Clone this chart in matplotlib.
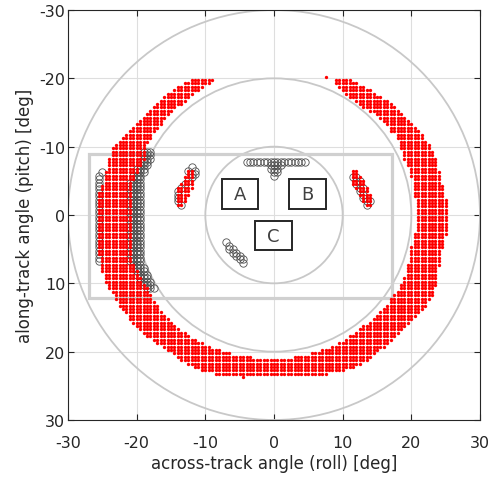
import numpy as np
import matplotlib
matplotlib.use("Agg")
import matplotlib.pyplot as plt
from matplotlib.patches import Circle, Rectangle

plt.rcParams['font.family'] = ['DejaVu Sans']
plt.rcParams['axes.unicode_minus'] = False

# red footprint, one row every 0.5 deg: left run [l0, l1], right run [r0, r1]
# (right run is nan where the ring closes at the bottom)
ring_y = [-19.75, -19.25, -18.75, -18.25, -17.75, -17.25, -16.75, -16.25, -15.75, -15.25,
          -14.75, -14.25, -13.75, -13.25, -12.75, -12.25, -11.75, -11.25, -10.75, -10.25,
          -9.75, -9.25, -8.75, -8.25, -7.75, -7.25, -6.75, -6.25, -5.75, -5.25,
          -4.75, -4.25, -3.75, -3.25, -2.75, -2.25, -1.75, -1.25, -0.75, -0.25,
          0.25, 0.75, 1.25, 1.75, 2.25, 2.75, 3.25, 3.75, 4.25, 4.75,
          5.25, 5.75, 6.25, 6.75, 7.25, 7.75, 8.25, 8.75, 9.25, 9.75,
          10.25, 10.75, 11.25, 11.75, 12.25, 12.75, 13.25, 13.75, 14.25, 14.75,
          15.25, 15.75, 16.25, 16.75, 17.25, 17.75, 18.25, 18.75, 19.25, 19.75,
          20.25, 20.75, 21.25, 21.75, 22.25, 22.75, 23.25]
ring_l0 = [-12, -13, -14, -14.5, -15.5, -16, -16.5, -17, -17.5, -18,
           -18.5, -19, -19.5, -20, -20.5, -21, -21.5, -22, -22.5, -23,
           -23.5, -23.5, -23.5, -24, -24, -24, -24, -24.5, -24.5, -24.5,
           -24.5, -25, -25, -25.5, -25.5, -25.5, -25.5, -25.5, -25.5, -25.5,
           -25.5, -25.5, -25.5, -25.5, -25.5, -25.5, -25.5, -25.5, -25.5, -25.5,
           -25.5, -25.5, -25, -25, -25, -25, -25, -24.5, -24.5, -24.5,
           -24, -24, -23.5, -23, -23, -22.5, -22.5, -22, -21.5, -21,
           -21, -20.5, -20, -19.5, -19, -18.5, -17.5, -17, -16, -15.5,
           -14.5, -14, -13.5, -12.5, -11.5, -10.5, -8.5]
ring_l1 = [-9, -9.5, -10.5, -11, -12, -12.5, -13, -13.5, -14.5, -15,
           -15.5, -16, -16.5, -16.5, -17, -17.5, -18, -18, -18.5, -19,
           -19, -19, -19, -19, -19.5, -19.5, -20, -20, -20.5, -20.5,
           -21, -21, -21, -21, -21, -21, -21, -21, -21, -21,
           -21, -21, -21, -21, -21, -21, -21, -21, -21, -21,
           -21, -21, -21, -21, -20.5, -20.5, -20, -20, -19.5, -19.5,
           -19, -18.5, -18.5, -18, -18, -17.5, -17, -17, -16.5, -16,
           -15.5, -15, -14.5, -14, -13, -12.5, -11.5, -10.5, -9.5, -8,
           -6.5, -3.5, 13.5, 12.5, 11.5, 10, 7.5]
ring_r0 = [9, 9, 9.5, 10, 10.5, 11, 12, 12.5, 13, 14,
           15, 15.5, 16, 16.5, 17, 17, 18, 18, 18.5, 18.5,
           18.5, 19, 19, 19, 19.5, 19.5, 20, 20, 20, 20.5,
           20.5, 20.5, 20.5, 20.5, 20.5, 21, 21, 21, 21, 21,
           21, 21, 21, 21, 21, 20.5, 20.5, 20.5, 20.5, 20,
           20, 20, 20, 20, 19.5, 19.5, 19.5, 19.5, 19, 19,
           18.5, 18.5, 18, 17.5, 17, 17, 16.5, 16, 15.5, 15,
           14.5, 14, 13, 12.5, 12, 11, 10.5, 9.5, 8.5, 7,
           5.5, 3, np.nan, np.nan, np.nan, np.nan, np.nan]
ring_r1 = [11, 12, 13, 14, 14.5, 15.5, 16.5, 17, 17.5, 18,
           18.5, 19, 19.5, 20, 20.5, 21, 21.5, 21.5, 22, 22.5,
           22.5, 23, 23, 23.5, 23.5, 23.5, 23.5, 24, 24, 24,
           24, 24.5, 24.5, 24.5, 24.5, 25, 25, 25, 25, 25,
           25, 25, 25, 25, 25, 25, 24.5, 24.5, 24.5, 24.5,
           24, 24, 24, 24, 24, 23.5, 23.5, 23.5, 23.5, 23.5,
           23.5, 23, 23, 23, 22.5, 22, 22, 21.5, 21, 20.5,
           20, 19.5, 19, 18.5, 18, 17.5, 17, 16.5, 16, 15,
           14.5, 14, np.nan, np.nan, np.nan, np.nan, np.nan]
stray_x = [7.5, -4.5]
stray_y = [-20.25, 23.75]

# small red patches next to the centre: columns x with [y0, y1]
patch_x = [-12, -12.5, -13, -13.5, -14, 11.5, 12, 12.5, 13, 13.5, 14]
patch_y0 = [-6.5, -6.5, -5.5, -4.5, -4, -6.5, -6.5, -5.5, -5, -4, -3]
patch_y1 = [-4, -3, -2, -1.5, -1.5, -4.5, -4, -3, -2, -1.5, -1.5]

# black circles along the inner edge of the left part: rows y with [x0, x1]
band_y = [-9.25, -8.75, -8.25, -7.75, -7.25, -6.75, -6.25, -5.75, -5.25, -4.75,
          -4.25, -3.75, -3.25, -2.75, -2.25, -1.75, -1.25, -0.75, -0.25, 0.25,
          0.75, 1.25, 1.75, 2.25, 2.75, 3.25, 3.75, 4.25, 4.75, 5.25,
          5.75, 6.25, 6.75, 7.25, 7.75, 8.25, 8.75, 9.25, 9.75, 10.25, 10.75]
band_x0 = [-19, -19, -19, -19.5, -19.5, -20, -20, -20.5, -20.5, -21,
           -21, -21, -21, -21, -21, -21, -21, -21, -21, -21,
           -21, -21, -21, -21, -21, -21, -21, -21, -21, -21,
           -21, -21, -21, -20.5, -20.5, -20, -20, -19.5, -19.5, -19, -18.5]
band_x1 = [-18, -18, -18, -18.5, -18.5, -19, -19, -19.5, -19.5, -19.5,
           -19.5, -19.5, -19.5, -19.5, -19.5, -19.5, -19.5, -19.5, -19.5, -19.5,
           -19.5, -19.5, -19.5, -19.5, -19.5, -19.5, -19.5, -19.5, -19.5, -19.5,
           -19.5, -19.5, -19.5, -19.5, -19, -19, -18.5, -18.5, -18, -18, -17.5]

# other black circles
circ_x = ([-25.5] * 26 + [-25]
          + [-4, -3.5, -3, -2.5, -2, -1.5, -1, -0.5, 0, 0.5, 1, 1.5, 2, 2.5, 3, 3.5, 4, 4.5]
          + [-0.5, 0, 0.5, 1, -0.5, 0, 0.5, 0, 0.5, 0]
          + [-7, -6.5, -6.5, -6, -6, -5.5, -5.5, -5, -5, -4.5, -4.5]
          + [-12, -12.5, -11.5, -11.5, -12, -12, -12.5, -13, -13.5, -14, -14, -14, -14, -13.5]
          + [11.5, 12, 12, 12, 12.5, 12.5, 12.5, 13, 13, 13, 13.5, 13.5, 14])
circ_y = ([-5.75, -5.25, -4.75, -4.25, -3.75, -3.25, -2.75, -2.25, -1.75, -1.25,
           -0.75, -0.25, 0.25, 0.75, 1.25, 1.75, 2.25, 2.75, 3.25, 3.75,
           4.25, 4.75, 5.25, 5.75, 6.25, 6.75, -6.25]
          + [-7.75] * 18
          + [-7.25, -7.25, -7.25, -7.25, -6.75, -6.75, -6.75, -6.25, -6.25, -5.75]
          + [4, 4.5, 5, 5, 5.5, 5.5, 6, 6, 6.5, 6.5, 7]
          + [-7, -6.5, -6.5, -6, -6, -5.5, -5, -4.5, -4, -3.5, -3, -2.5, -2, -1.5]
          + [-5.5, -5.5, -5, -4.5, -4, -3.5, -5, -3, -2.5, -4, -2, -1.5, -2])

range_radii = [10, 20, 30]
fov_x = [-27, 17.25]
fov_y = [-9, 12.2]

box_labels = ['A', 'B', 'C']
box_x0 = [-7.6, 2.2, -2.8]
box_x1 = [-2.4, 7.5, 2.6]
box_y0 = [-5.2, -5.2, 0.9]
box_y1 = [-0.9, -0.9, 5.1]


def fill_rows(rows, starts, ends):
    xs, ys = [], []
    for r, a, b in zip(rows, starts, ends):
        if np.isnan(a):
            continue
        n = int(round((b - a) / 0.5)) + 1
        xs += list(a + 0.5 * np.arange(n))
        ys += [r] * n
    return xs, ys


lx, ly = fill_rows(ring_y, ring_l0, ring_l1)
rx, ry = fill_rows(ring_y, ring_r0, ring_r1)
py_, px_ = fill_rows(patch_x, patch_y0, patch_y1)
red_x = lx + rx + px_ + stray_x
red_y = ly + ry + py_ + stray_y

bx, by = fill_rows(band_y, band_x0, band_x1)
blk_x = bx + circ_x
blk_y = by + circ_y

fig = plt.figure(figsize=(4.89, 4.81), dpi=100)
ax = fig.add_axes([68 / 489, 1 - 421 / 481, 412 / 489, 410 / 481])

for r in range_radii:
    ax.add_patch(Circle((0, 0), r, fill=False, ec='#c8c8c8', lw=1.3, zorder=1))
ax.add_patch(Rectangle((fov_x[0], fov_y[0]), fov_x[1] - fov_x[0], fov_y[1] - fov_y[0],
                       fill=False, ec='#d0d0d0', lw=2.3, zorder=1))

ax.plot(blk_x, blk_y, 'o', ms=5.3, mfc='none', mec='#505050', mew=0.6, zorder=2)
ax.plot(red_x, red_y, 'o', ms=2.4, mfc='red', mec='none', zorder=3)

for lab, a, b, c, d in zip(box_labels, box_x0, box_x1, box_y0, box_y1):
    ax.add_patch(Rectangle((a, c), b - a, d - c, fc='white', ec='#262626', lw=1.4, zorder=4))
    ax.text((a + b) / 2, (c + d) / 2, lab, ha='center', va='center',
            fontsize=13, color='#404040', zorder=5)

ax.set_xlim(-30, 30)
ax.set_ylim(30, -30)
ax.set_xticks(range(-30, 31, 10))
ax.set_yticks(range(-30, 31, 10))
ax.grid(True, color='#dedede', lw=0.8, zorder=0)
ax.set_axisbelow(True)
ax.tick_params(direction='in', top=True, right=True, length=4, labelsize=11.5,
               colors='#262626')
ax.tick_params(axis='x', pad=11)
ax.tick_params(axis='y', pad=2)
for s in ax.spines.values():
    s.set_color('#262626')
ax.set_xlabel('across-track angle (roll) [deg]', fontsize=12, color='#262626',
              labelpad=3)
ax.set_ylabel('along-track angle (pitch) [deg]', fontsize=12, color='#262626',
              labelpad=4)

fig.savefig('out.png', dpi=100)
